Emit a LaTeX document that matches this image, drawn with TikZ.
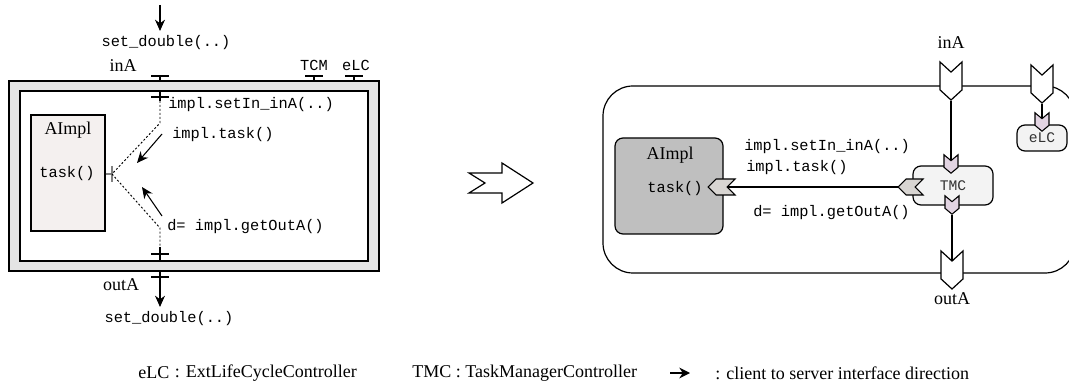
\documentclass[tikz,border=0pt]{standalone}
\usepackage{fontspec}
\setmainfont{Liberation Serif}
\setmonofont{Liberation Mono}
\usetikzlibrary{arrows.meta,shapes.symbols}
\definecolor{FrameGrey}{HTML}{E4E4E4}
\definecolor{PaleRose}{HTML}{F4F0EF}
\definecolor{MidGrey}{HTML}{BFBFBF}
\definecolor{PaleGrey}{HTML}{F3F3F3}
\definecolor{Lilac}{HTML}{E2D4E2}
\definecolor{Stone}{HTML}{D8D5D2}
\definecolor{TickGrey}{HTML}{808080}

\begin{document}
\begin{tikzpicture}[x=0.75pt,y=-0.75pt,
  serif/.style={font=\fontsize{13.5}{16}\selectfont,inner sep=0pt},
  code/.style={font=\ttfamily\fontsize{11.5}{14}\selectfont,inner sep=0pt},
  ctrl/.style={draw,line width=0.9pt,rounded corners=6pt,fill=PaleGrey,inner sep=0pt,
    font=\ttfamily\fontsize{11}{13}\selectfont,text=black!80},
  comp/.style={draw,line width=0.9pt,inner sep=0pt},
  port/.style={signal,draw,line width=0.9pt,fill=white,inner sep=0pt,
    signal from=north,signal to=south,signal pointer angle=95,
    minimum width=16.5pt,minimum height=13.4pt},
  cport/.style={port,fill=Lilac,line width=0.8pt,signal pointer angle=100,
    minimum width=10.5pt,minimum height=5pt},
  sport/.style={draw,line width=0.8pt,fill=Stone,line join=miter},
  tick/.style={line width=0.9pt},
  call/.style={line width=0.7pt,dash pattern=on 1.5pt off 1.5pt},
  wire/.style={line width=0.9pt},
  arr/.style={-{Stealth[length=8.5pt,width=7.5pt]},line width=0.8pt}
]
  \useasboundingbox (0,0) rectangle (1069,384);

  % left: component inside its membrane
  \draw[line width=0.9pt,fill=FrameGrey] (9,81) rectangle (379,271);
  \draw[line width=0.9pt,fill=white] (20,91) rectangle (368,261);
  \node[comp,fill=PaleRose,minimum width=55.5pt,minimum height=87pt] (limpl) at (68,173) {};
  \node[serif] (limplname) at (68,130) {AImpl};
  \node[code] (ltask) at (67,174) {task()};
  \coordinate (ltaskport) at (112,174);
  \draw[TickGrey,line width=0.9pt] (limpl.east |- ltaskport) -- (ltaskport) (112,166) -- (112,182);

  % left: ticks on the membrane
  \coordinate (inAout) at (160,76);
  \coordinate (inAin) at (160,97);
  \coordinate (outAin) at (160,254);
  \coordinate (outAout) at (160,277);
  \coordinate (tcmtick) at (314,76);
  \coordinate (elctick) at (354,76);
  \foreach \c in {inAout,tcmtick,elctick}
    \draw[tick] (\c) ++(-9,0) -- ++(18,0) (\c) -- ++(0,5);
  \draw[tick] (inAin) ++(-9,0) -- ++(18,0) (160,91) -- (160,101);
  \draw[tick] (outAin) ++(-9,0) -- ++(18,0) (160,247) -- (160,261);
  \draw[tick] (outAout) ++(-9,0) -- ++(18,0) (160,271) -- (outAout);
  \draw[call] (160,101) -- (160,123) -- (ltaskport) -- (160,228) -- (160,247);

  % left: labels
  \coordinate (srcin) at (160,5);
  \coordinate (srcinhead) at (160,31);
  \node[code] (setin) at (166,43) {set\_double(..)};
  \draw[arr] (srcin) -- (srcinhead);
  \node[serif] (linA) at (123,66) {inA};
  \node[code] (ltcm) at (314,65) {TCM};
  \node[code] (lelc) at (356,65) {eLC};
  \node[code,anchor=west] (lsetin) at (168,105) {impl.setIn\_inA(..)};
  \node[code,anchor=west] (lcall) at (172,135) {impl.task()};
  \node[code,anchor=west] (lget) at (167,227) {d= impl.getOutA()};
  \coordinate (taskfrom) at (162,134);
  \coordinate (taskto) at (137,163);
  \coordinate (getfrom) at (162,216);
  \coordinate (getto) at (142,187);
  \draw[arr] (taskfrom) -- (taskto);
  \draw[arr] (getfrom) -- (getto);
  \node[serif] (loutA) at (121,285) {outA};
  \coordinate (setouthead) at (160,307);
  \node[code] (setout) at (169,319) {set\_double(..)};
  \draw[arr] (outAout) -- (setouthead);

  % big hollow arrow
  \draw[line width=0.9pt] (469,173) -- (485,183) -- (469,193) -- (502,193) -- (502,203)
    -- (533,183) -- (502,163) -- (502,173) -- cycle;

  % right: composite with controllers
  \begin{scope}
    \clip (0,0) rectangle (1069,384);
    \draw[line width=0.9pt,rounded corners=22.5pt] (603,86) rectangle (1075,273);
  \end{scope}
  \node[comp,fill=MidGrey,rounded corners=6pt,minimum width=81pt,minimum height=72pt] (rimpl) at (669,186) {};
  \node[serif] (rimplname) at (670,155) {AImpl};
  \node[code] (rtask) at (675,189) {task()};
  \node[ctrl,minimum width=60pt,minimum height=29.25pt] (tmc) at (953,185.5) {TMC};
  \node[ctrl,minimum width=37.5pt,minimum height=19.5pt] (elc) at (1042,138) {eLC};

  \node[port] (inA) at (951,81) {};
  \node[port] (elcport) at (1042,84) {};
  \node[port] (outA) at (952,270) {};
  \node[cport] (tmcin) at (951,164) {};
  \node[cport] (tmcout) at (952,205) {};
  \node[cport] (elcin) at (1042,122) {};
  % server-side chevrons, tip and notch
  \coordinate (tmcsrv) at (898,187);
  \coordinate (implsrv) at (708,187);
  \coordinate (implnotch) at (727,187);
  \draw[sport] (tmcsrv) -- ++(8,-8) -- ++(17,0) -- ++(-8,8) -- ++(8,8) -- ++(-17,0) -- cycle;
  \draw[sport] (implsrv) -- ++(8,-8) -- ++(19,0) -- ++(-8,8) -- ++(8,8) -- ++(-19,0) -- cycle;
  \draw[wire] (inA.south) -- (tmcin.north);
  \draw[wire] (elcport.south) -- (elcin.north);
  \draw[wire] (tmcout.south) -- (outA.north);
  \draw[wire] (implnotch) -- (tmcsrv);

  \node[serif] (rinA) at (951,43) {inA};
  \node[serif] (routA) at (952,299) {outA};
  \node[code,anchor=west] (rsetin) at (744,147) {impl.setIn\_inA(..)};
  \node[code,anchor=west] (rcall) at (746,168) {impl.task()};
  \node[code,anchor=west] (rget) at (753,213) {d= impl.getOutA()};

  % legend
  \node[serif,anchor=west] (lgelc) at (138,373) {eLC};
  \node[serif,anchor=east] (lgelctext) at (357,373) {: ExtLifeCycleController};
  \node[serif,anchor=west] (lgtmc) at (412,373) {TMC : TaskManagerController};
  \coordinate (lgfrom) at (670,373);
  \coordinate (lgto) at (690,373);
  \draw[-{Stealth[length=8pt,width=8pt]},line width=1.3pt] (lgfrom) -- (lgto);
  \node[serif,anchor=west] (lgdir) at (715,373) {: client to server interface direction};
\end{tikzpicture}
\end{document}
